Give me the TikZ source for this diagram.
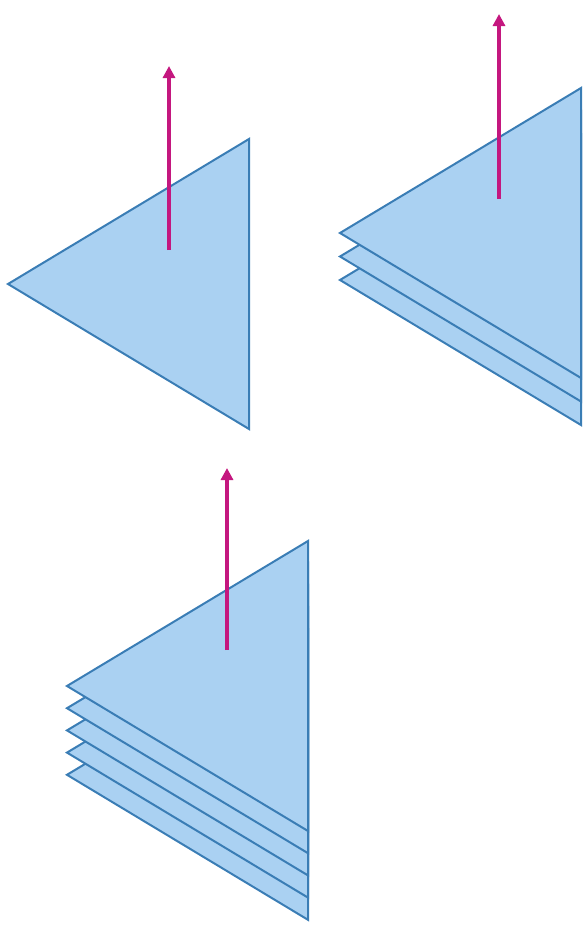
\documentclass[tikz,border=0pt]{standalone}
\usetikzlibrary{arrows.meta}

\definecolor{sheetfill}{HTML}{AAD1F2}
\definecolor{sheetedge}{HTML}{3A7DB5}
\definecolor{spinpink}{HTML}{C4177F}

\tikzset{
  sheet/.style={fill=sheetfill, draw=sheetedge, line width=1.5pt, line join=miter},
  spin/.style={spinpink, line width=3pt, -{Triangle[length=9pt, width=9pt]}}
}

\begin{document}
\begin{tikzpicture}[x=0.75pt, y=-0.75pt]

  % Canvas
  \useasboundingbox (0,0) rectangle (584,925);

  % Triangle size
  \def\w{241}
  \def\h{145}

  % Single sheet
  \coordinate (A) at (8,284);
  \draw[sheet] (A) -- ++(\w,-\h) -- ++(0,2*\h) -- cycle;
  \coordinate (A1) at (169,250);
  \coordinate (A2) at (169,66);
  \draw[spin] (A1) -- (A2);

  % Stack of three
  \coordinate (B) at (340,233);
  \foreach \k in {2,1,0}
    \draw[sheet] ([yshift=-\k*23.5*0.75pt]B) -- ++(\w,-\h) -- ++(0,2*\h) -- cycle;
  \coordinate (B1) at (499,199);
  \coordinate (B2) at (499,14);
  \draw[spin] (B1) -- (B2);

  % Stack of five
  \coordinate (C) at (67,686);
  \foreach \k in {4,3,2,1,0}
    \draw[sheet] ([yshift=-\k*22.2*0.75pt]C) -- ++(\w,-\h) -- ++(0,2*\h) -- cycle;
  \coordinate (C1) at (227,650);
  \coordinate (C2) at (227,468);
  \draw[spin] (C1) -- (C2);

\end{tikzpicture}
\end{document}
